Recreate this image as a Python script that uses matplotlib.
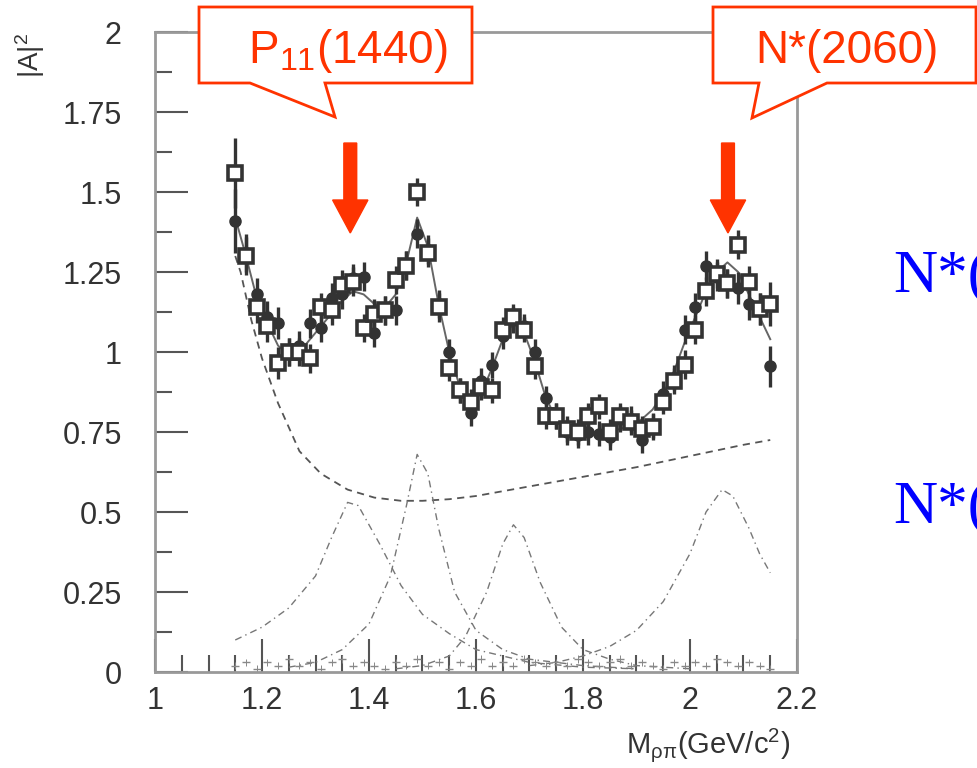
import numpy as np
import matplotlib.pyplot as plt
from matplotlib.patches import Polygon
from matplotlib.ticker import MultipleLocator, FuncFormatter

plt.rcParams['font.family'] = ['Liberation Sans', 'DejaVu Sans']
plt.rcParams['mathtext.fontset'] = 'custom'
plt.rcParams['mathtext.rm'] = 'Liberation Sans'
plt.rcParams['mathtext.it'] = 'Liberation Sans'

# mass bins (GeV/c^2)
mass = [1.15, 1.17, 1.19, 1.21, 1.23, 1.25, 1.27, 1.29, 1.31, 1.33,
        1.35, 1.37, 1.39, 1.41, 1.43, 1.45, 1.47, 1.49, 1.51, 1.53,
        1.55, 1.57, 1.59, 1.61, 1.63, 1.65, 1.67, 1.69, 1.71, 1.73,
        1.75, 1.77, 1.79, 1.81, 1.83, 1.85, 1.87, 1.89, 1.91, 1.93,
        1.95, 1.97, 1.99, 2.01, 2.03, 2.05, 2.07, 2.09, 2.11, 2.13, 2.15]

# filled circles
amp_circ = [1.41, 1.31, 1.18, 1.11, 1.09, 1.00, 1.02, 1.09, 1.075, 1.17,
            1.18, 1.23, 1.235, 1.06, 1.13, 1.13, 1.27, 1.37, 1.32, 1.15,
            1.00, 0.88, 0.81, 0.91, 0.96, 1.05, 1.10, 1.08, 1.00, 0.855,
            0.80, 0.75, 0.74, 0.75, 0.745, 0.735, 0.79, 0.79, 0.725, 0.77,
            0.87, 0.92, 1.07, 1.14, 1.27, 1.235, 1.215, 1.20, 1.15, 1.135, 0.955]
err_circ = [0.10, 0.06, 0.05, 0.05, 0.05, 0.045, 0.045, 0.045, 0.045, 0.045,
            0.045, 0.045, 0.045, 0.045, 0.045, 0.045, 0.045, 0.045, 0.045, 0.045,
            0.04, 0.04, 0.04, 0.04, 0.04, 0.04, 0.04, 0.04, 0.04, 0.04,
            0.04, 0.04, 0.04, 0.04, 0.04, 0.04, 0.04, 0.04, 0.04, 0.04,
            0.04, 0.04, 0.045, 0.045, 0.045, 0.045, 0.045, 0.05, 0.05, 0.05, 0.065]

# open squares
amp_sq = [1.56, 1.30, 1.14, 1.08, 0.965, 1.00, 1.00, 0.98, 1.14, 1.13,
          1.21, 1.22, 1.075, 1.12, 1.13, 1.225, 1.27, 1.50, 1.31, 1.14,
          0.95, 0.88, 0.845, 0.89, 0.88, 1.07, 1.11, 1.07, 0.955, 0.80,
          0.80, 0.76, 0.75, 0.80, 0.83, 0.75, 0.80, 0.78, 0.76, 0.765,
          0.845, 0.91, 0.96, 1.07, 1.19, 1.245, 1.215, 1.335, 1.22, 1.135, 1.15]
err_sq = [0.11, 0.06, 0.05, 0.05, 0.05, 0.045, 0.045, 0.045, 0.045, 0.045,
          0.045, 0.045, 0.045, 0.045, 0.045, 0.045, 0.045, 0.045, 0.045, 0.045,
          0.04, 0.04, 0.04, 0.04, 0.04, 0.04, 0.04, 0.04, 0.04, 0.04,
          0.04, 0.04, 0.04, 0.04, 0.04, 0.04, 0.04, 0.04, 0.04, 0.04,
          0.04, 0.04, 0.045, 0.045, 0.045, 0.045, 0.045, 0.045, 0.05, 0.05, 0.07]

# small contributions near zero
amp_low = [0.02, 0.03, 0.01, 0.03, 0.02, 0.04, 0.02, 0.03, 0.01, 0.03,
           0.04, 0.02, 0.03, 0.02, 0.01, 0.03, 0.02, 0.04, 0.02, 0.03,
           0.01, 0.03, 0.02, 0.04, 0.02, 0.03, 0.02, 0.04, 0.03, 0.02,
           0.03, 0.02, 0.04, 0.03, 0.02, 0.03, 0.04, 0.02, 0.03, 0.02,
           0.01, 0.03, 0.02, 0.03, 0.02, 0.04, 0.03, 0.02, 0.03, 0.02, 0.01]

# total fit
fit_x = [1.15, 1.17, 1.19, 1.21, 1.23, 1.25, 1.27, 1.29, 1.31, 1.33, 1.35, 1.37,
         1.39, 1.41, 1.43, 1.45, 1.47, 1.49, 1.51, 1.53, 1.55, 1.57, 1.59, 1.61,
         1.63, 1.65, 1.67, 1.69, 1.71, 1.73, 1.75, 1.77, 1.79, 1.81, 1.83, 1.85,
         1.87, 1.89, 1.91, 1.93, 1.95, 1.97, 1.99, 2.01, 2.03, 2.05, 2.07, 2.09,
         2.11, 2.13, 2.15]
fit_y = [1.42, 1.30, 1.17, 1.09, 1.02, 0.99, 1.00, 1.04, 1.08, 1.12, 1.16, 1.19,
         1.18, 1.15, 1.14, 1.18, 1.28, 1.42, 1.33, 1.15, 1.00, 0.89, 0.84, 0.87,
         0.95, 1.04, 1.09, 1.06, 0.97, 0.86, 0.79, 0.755, 0.74, 0.74, 0.745, 0.75,
         0.76, 0.77, 0.79, 0.82, 0.87, 0.94, 1.03, 1.11, 1.19, 1.25, 1.28, 1.25,
         1.18, 1.11, 1.04]

# background (dashed)
bg_x = [1.15, 1.16, 1.18, 1.20, 1.23, 1.27, 1.31, 1.36, 1.41, 1.46, 1.50,
        1.55, 1.60, 1.70, 1.80, 1.90, 2.00, 2.10, 2.15]
bg_y = [1.30, 1.25, 1.10, 0.98, 0.84, 0.69, 0.62, 0.57, 0.545, 0.535, 0.535,
        0.54, 0.55, 0.58, 0.61, 0.64, 0.675, 0.71, 0.725]

# resonances (dash-dot)
r1_x = [1.15, 1.20, 1.25, 1.30, 1.33, 1.36, 1.38, 1.42, 1.46, 1.50, 1.55, 1.60, 1.65, 1.70, 1.80, 1.90]
r1_y = [0.10, 0.14, 0.20, 0.30, 0.42, 0.53, 0.52, 0.40, 0.27, 0.18, 0.12, 0.07, 0.05, 0.03, 0.015, 0.01]
r2_x = [1.25, 1.30, 1.35, 1.40, 1.44, 1.47, 1.49, 1.51, 1.53, 1.56, 1.60, 1.65, 1.70, 1.80, 1.90]
r2_y = [0.015, 0.03, 0.07, 0.15, 0.30, 0.52, 0.68, 0.62, 0.45, 0.25, 0.13, 0.07, 0.04, 0.02, 0.01]
r3_x = [1.45, 1.50, 1.55, 1.58, 1.62, 1.65, 1.67, 1.69, 1.72, 1.76, 1.80, 1.85, 1.90, 2.00]
r3_y = [0.01, 0.02, 0.05, 0.11, 0.25, 0.40, 0.46, 0.42, 0.28, 0.14, 0.07, 0.04, 0.02, 0.01]
r4_x = [1.70, 1.75, 1.80, 1.85, 1.90, 1.95, 2.00, 2.03, 2.06, 2.08, 2.11, 2.13, 2.15]
r4_y = [0.02, 0.03, 0.05, 0.08, 0.13, 0.22, 0.37, 0.50, 0.57, 0.55, 0.45, 0.37, 0.31]

# arrows mark the resonance masses
arrow_x = [1.365, 2.071]

W, H = 978, 768
fig = plt.figure(figsize=(W / 100, H / 100), dpi=100)
ax = fig.add_axes([155 / W, 96 / H, 642 / W, 640 / H])

dark = '#333333'
red = '#FF3300'

ax.plot(bg_x, bg_y, color='#555555', lw=1.3, ls=(0, (4, 3)))
for rx, ry in [(r1_x, r1_y), (r2_x, r2_y), (r3_x, r3_y), (r4_x, r4_y)]:
    ax.plot(rx, ry, color='#777777', lw=1.0, ls=(0, (5, 3, 1, 3)))
ax.plot(fit_x, fit_y, color='#666666', lw=1.4, zorder=2)

ax.errorbar(mass, amp_low, yerr=0.012, fmt='_', color='#888888', ms=6,
            elinewidth=0.7, capsize=0, zorder=2)
ax.errorbar(mass, amp_circ, yerr=err_circ, fmt='o', color=dark, ms=8,
            elinewidth=2.4, capsize=0, zorder=3)
ax.errorbar(mass, amp_sq, yerr=err_sq, fmt='s', color=dark, mfc='white',
            mec=dark, mew=2.6, ms=10, elinewidth=2.4, capsize=0, zorder=4)

for x in arrow_x:
    ax.arrow(x, 1.653, 0, -0.281, width=0.024, head_width=0.066,
             head_length=0.103, length_includes_head=True, color=red,
             clip_on=False, zorder=6)

ax.set_xlim(1, 2.2)
ax.set_ylim(0, 2)
ax.xaxis.set_major_locator(MultipleLocator(0.2))
ax.xaxis.set_minor_locator(MultipleLocator(0.05))
ax.yaxis.set_major_locator(MultipleLocator(0.25))
ax.yaxis.set_minor_locator(MultipleLocator(0.125))
ax.xaxis.set_major_formatter(FuncFormatter(lambda v, p: '%g' % round(v, 2)))
ax.yaxis.set_major_formatter(FuncFormatter(lambda v, p: '%g' % round(v, 3)))
ax.tick_params(which='major', direction='in', length=24, width=1.5,
               color='#555555', labelsize=22, labelcolor=dark)
ax.tick_params(which='minor', direction='in', length=12, width=1.5, color='#555555')
ax.tick_params(axis='x', which='major', pad=10)
ax.tick_params(axis='y', which='major', pad=24)
for s in ax.spines.values():
    s.set_color('#999999')
    s.set_linewidth(2)

fig.text(30 / W, 1 - 55 / H, '|A|$^{2}$', rotation=90, ha='center', va='center',
         fontsize=20, color=dark)
fig.text(790 / W, 1 - 745 / H, r'M$_{\rho\pi}$(GeV/c$^{2}$)', ha='right',
         va='center', fontsize=21, color=dark)

# callouts


def px(pts):
    return [(a / W, 1 - b / H) for a, b in pts]


call1 = [(199, 7), (472, 7), (472, 83), (325, 83), (335, 117), (250, 83), (199, 83)]
call2 = [(713, 7), (976, 7), (976, 83), (827, 83), (752, 118), (759, 83), (713, 83)]
for c in (call1, call2):
    fig.add_artist(Polygon(px(c), closed=True, transform=fig.transFigure,
                           facecolor='white', edgecolor=red, lw=2, zorder=5))
fig.text(248 / W, 1 - 63 / H, r'P$_{\mathregular{11}}$(1440)', ha='left',
         va='baseline', fontsize=33, color=red, zorder=6)
fig.text(755 / W, 1 - 63 / H, 'N*(2060)', ha='left', va='baseline',
         fontsize=33, color=red, zorder=6)

# blue labels run off the right edge, as in the original slide
fig.text(893 / W, 1 - 292 / H, 'N*(', ha='left', va='baseline', fontsize=44,
         color='blue', family='Liberation Serif')
fig.text(893 / W, 1 - 523 / H, 'N*(', ha='left', va='baseline', fontsize=44,
         color='blue', family='Liberation Serif')

fig.savefig('out.png', dpi=100)
